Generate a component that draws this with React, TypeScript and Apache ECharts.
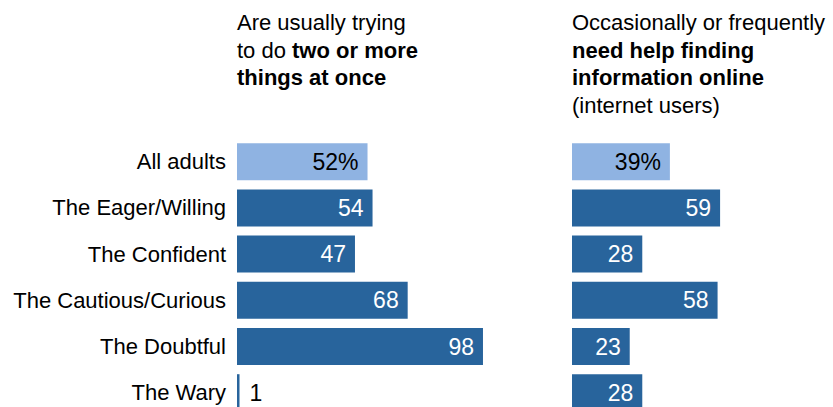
import React, { useEffect, useRef } from 'react';
import * as echarts from 'echarts';

const categories = [
  'All adults',
  'The Eager/Willing',
  'The Confident',
  'The Cautious/Curious',
  'The Doubtful',
  'The Wary',
];
const multitaskValues = [52, 54, 47, 68, 98, 1];
const helpValues = [39, 59, 28, 58, 23, 28];

const DARK = '#28649c';
const LIGHT = '#8fb3e2';
const FONT = '"Liberation Sans", Arial, sans-serif';

function buildData(values: number[]) {
  return values.map((v, i) => {
    const item: any = { value: v, itemStyle: { color: i === 0 ? LIGHT : DARK } };
    if (i === 0) {
      item.label = { color: '#000' };
    }
    if (v < 5) {
      item.label = { position: 'right', color: '#000', distance: 10 };
    }
    return item;
  });
}

export default function App() {
  const ref = useRef<HTMLDivElement>(null);
  useEffect(() => {
    if (!ref.current) return;
    const chart = echarts.init(ref.current, null, { renderer: 'svg' });
    const gridTop = 138.6;
    const gridHeight = 46.2 * categories.length;
    const labelCfg = {
      show: true,
      position: 'insideRight',
      distance: 9,
      color: '#fff',
      fontSize: 23,
      fontFamily: FONT,
      formatter: (p: any) => (p.dataIndex === 0 ? p.value + '%' : String(p.value)),
    };
    const titleRich = {
      n: { fontSize: 22, fontFamily: FONT, color: '#000', lineHeight: 27.5 },
      b: { fontSize: 22, fontFamily: FONT, color: '#000', fontWeight: 'bold', lineHeight: 27.5 },
    };
    chart.setOption({
      animation: false,
      grid: [
        { left: 237, top: gridTop, width: 251, height: gridHeight },
        { left: 572, top: gridTop, width: 251, height: gridHeight },
      ],
      xAxis: [
        { type: 'value', gridIndex: 0, min: 0, max: 100, show: false },
        { type: 'value', gridIndex: 1, min: 0, max: 100, show: false },
      ],
      yAxis: [
        {
          type: 'category',
          gridIndex: 0,
          data: categories,
          inverse: true,
          axisLine: { show: false },
          axisTick: { show: false },
          axisLabel: { fontSize: 22, color: '#000', margin: 11, fontFamily: FONT },
        },
        {
          type: 'category',
          gridIndex: 1,
          data: categories,
          inverse: true,
          axisLine: { show: false },
          axisTick: { show: false },
          axisLabel: { show: false },
        },
      ],
      series: [
        {
          type: 'bar',
          xAxisIndex: 0,
          yAxisIndex: 0,
          barWidth: 37,
          data: buildData(multitaskValues),
          label: labelCfg,
        },
        {
          type: 'bar',
          xAxisIndex: 1,
          yAxisIndex: 1,
          barWidth: 37,
          data: buildData(helpValues),
          label: labelCfg,
        },
      ],
      graphic: [
        {
          type: 'text',
          left: 237,
          top: 11.5,
          style: {
            text: '{n|Are usually trying}\n{n|to do }{b|two or more}\n{b|things at once}',
            rich: titleRich,
          },
        },
        {
          type: 'text',
          left: 572,
          top: 11.5,
          style: {
            text: '{n|Occasionally or frequently}\n{b|need help finding}\n{b|information online}\n{n|(internet users)}',
            rich: titleRich,
          },
        },
      ],
    });
    return () => chart.dispose();
  }, []);
  return (
    <div style={{ position: 'absolute', left: 0, top: 0, width: 833, height: 407, overflow: 'hidden' }}>
      <div ref={ref} style={{ width: 833, height: 460 }} />
    </div>
  );
}
